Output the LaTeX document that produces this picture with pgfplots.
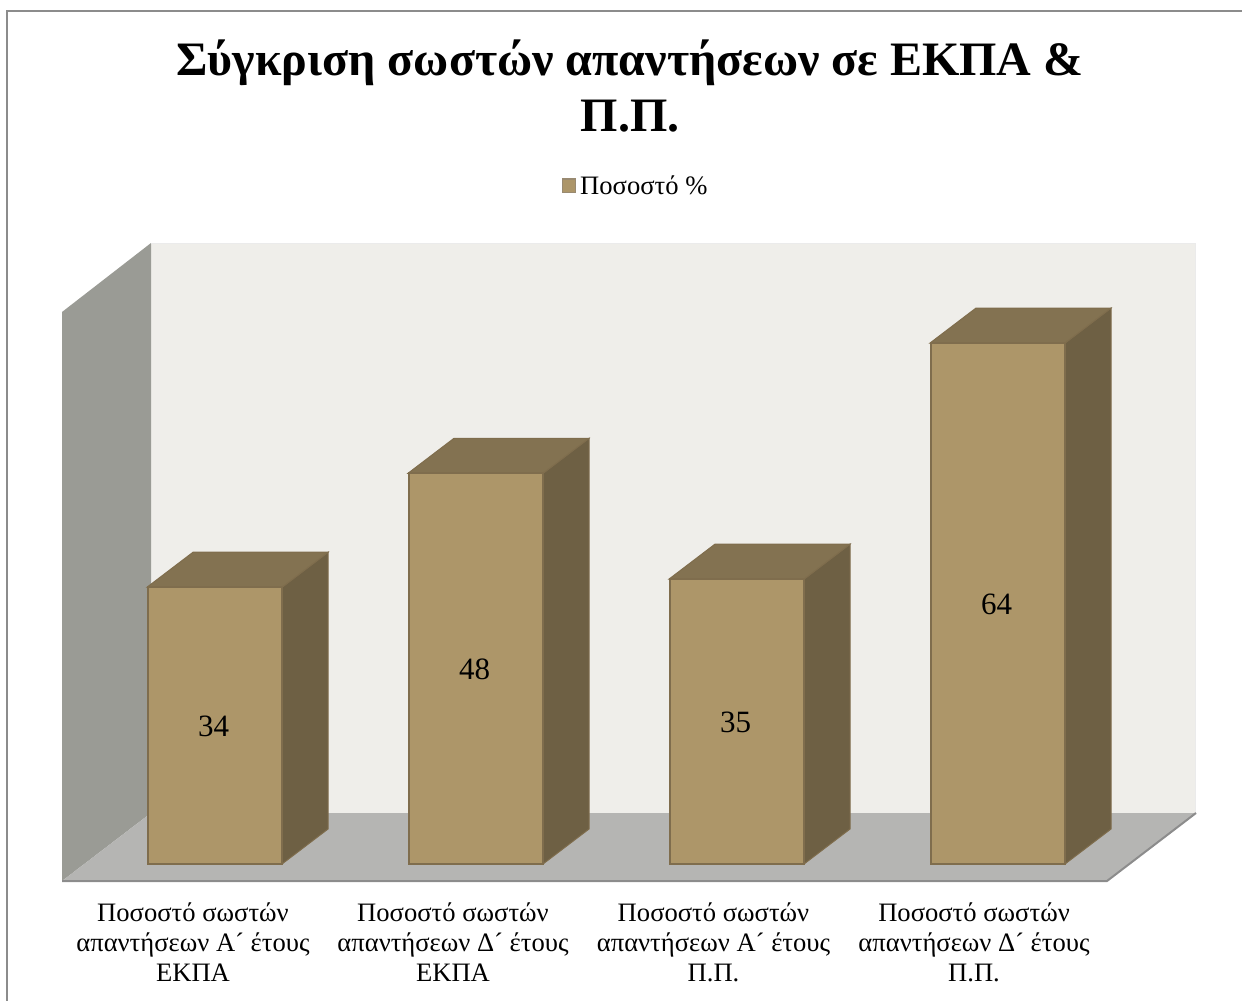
\documentclass[border=0pt]{standalone}
\usepackage{pgfplots}
\pgfplotsset{compat=1.18}
\usepackage{pgfplotstable}
\usepackage{fontspec}
\setmainfont{Liberation Serif}

\definecolor{barfront}{HTML}{AD9669}
\definecolor{barside}{HTML}{6E6044}
\definecolor{bartop}{HTML}{837251}
\definecolor{baredge}{HTML}{7F6D4D}
\definecolor{backwall}{HTML}{EFEEEA}
\definecolor{sidewall}{HTML}{9A9B95}
\definecolor{floorgray}{HTML}{B5B5B3}
\definecolor{framegray}{HTML}{8C8C8C}

% Percentage of correct answers per group
\pgfplotstableread{
x v
0 34
1 48
2 35
3 64
}\answers

\begin{document}
\begin{tikzpicture}[x=1pt,y=1pt]
  \path[use as bounding box] (0,0) rectangle (1242,-1001);
  % chart frame
  \draw[framegray,line width=2pt] (7,-1001) -- (7,-11) -- (1242,-11);
  % room: back wall, side wall, floor
  \fill[backwall] (151,-243) rectangle (1195,-813);
  \fill[sidewall] (62,-312) -- (151,-243) -- (151,-813) -- (62,-881) -- cycle;
  \draw[black!8,line width=0.8pt] (151,-243) -- (1195,-243) -- (1195,-813);
  \fill[floorgray] (62,-881) -- (151,-813) -- (1196,-813) -- (1107,-881) -- cycle;
  \draw[framegray,line width=2pt] (62,-881) -- (1107,-881) -- (1196,-813);
  \begin{axis}[
    at={(62pt,-881pt)}, anchor=south west,
    scale only axis, width=1134pt, height=638pt,
    xmin=-0.5843, xmax=3.7605, ymin=-2.088, ymax=76.29,
    clip=false,
    /pgf/number format/assume math mode=true,
    axis line style={draw=none},
    major tick length=0pt,
    ytick=\empty,
    xtick={-0.0824,0.9138,1.9119,2.9100},
    xticklabels={{Ποσοστό σωστών\\απαντήσεων Α´ έτους\\ΕΚΠΑ},
                 {Ποσοστό σωστών\\απαντήσεων Δ´ έτους\\ΕΚΠΑ},
                 {Ποσοστό σωστών\\απαντήσεων Α´ έτους\\Π.Π.},
                 {Ποσοστό σωστών\\απαντήσεων Δ´ έτους\\Π.Π.}},
    xticklabel style={align=center,inner sep=0pt,anchor=north,yshift=-21.5pt,
      font=\fontsize{26.6}{30}\selectfont},
    title={Σύγκριση σωστών απαντήσεων σε ΕΚΠΑ \&\\Π.Π.},
    title style={at={(0.5009,1)},anchor=south,align=center,inner sep=0pt,yshift=105pt,
      font=\fontsize{48}{56}\selectfont\bfseries},
    legend style={at={(0.5,1)},anchor=center,yshift=57pt,xshift=6.5pt,draw=none,fill=none,
      font=\fontsize{26.6}{30}\selectfont,inner sep=0pt,
      /tikz/every even column/.append style={column sep=0pt}},
    legend image code/.code={
      \draw[fill=barfront,draw=baredge!80,line width=1.2pt] (0pt,-6.5pt) rectangle (13.5pt,7pt);
    },
  ]
    % depth faces of the bars
    \addplot[forget plot,fill=barside,draw=baredge,line width=1pt] coordinates {(0.2586,0) (0.4349,4.3) (0.4349,38.3) (0.2586,34)} -- cycle;
    \addplot[forget plot,fill=bartop,draw=baredge,line width=1pt] coordinates {(-0.2586,34) (-0.0824,38.3) (0.4349,38.3) (0.2586,34)} -- cycle;
    \addplot[forget plot,fill=barside,draw=baredge,line width=1pt] coordinates {(1.2586,0) (1.4349,4.3) (1.4349,52.3) (1.2586,48)} -- cycle;
    \addplot[forget plot,fill=bartop,draw=baredge,line width=1pt] coordinates {(0.7414,48) (0.9176,52.3) (1.4349,52.3) (1.2586,48)} -- cycle;
    \addplot[forget plot,fill=barside,draw=baredge,line width=1pt] coordinates {(2.2586,0) (2.4349,4.3) (2.4349,39.3) (2.2586,35)} -- cycle;
    \addplot[forget plot,fill=bartop,draw=baredge,line width=1pt] coordinates {(1.7414,35) (1.9176,39.3) (2.4349,39.3) (2.2586,35)} -- cycle;
    \addplot[forget plot,fill=barside,draw=baredge,line width=1pt] coordinates {(3.2586,0) (3.4349,4.3) (3.4349,68.3) (3.2586,64)} -- cycle;
    \addplot[forget plot,fill=bartop,draw=baredge,line width=1pt] coordinates {(2.7414,64) (2.9176,68.3) (3.4349,68.3) (3.2586,64)} -- cycle;
    % front faces
    \addplot[ybar,bar width=134pt,bar shift=0pt,fill=barfront,draw=baredge,line width=2pt]
      table[x=x,y=v] {\answers};
    \addlegendentry{\hspace{2pt}Ποσοστό \%}
    % value labels, centred on the front faces
    \addplot[forget plot,draw=none,mark=none,
      nodes near coords,point meta=explicit,
      nodes near coords style={anchor=center,inner sep=0pt,yshift=-1pt,xshift=-1pt,
        font=\fontsize{31}{31}\selectfont}]
      table[x=x,y expr=\thisrow{v}/2,meta=v] {\answers};
  \end{axis}
\end{tikzpicture}
\end{document}
